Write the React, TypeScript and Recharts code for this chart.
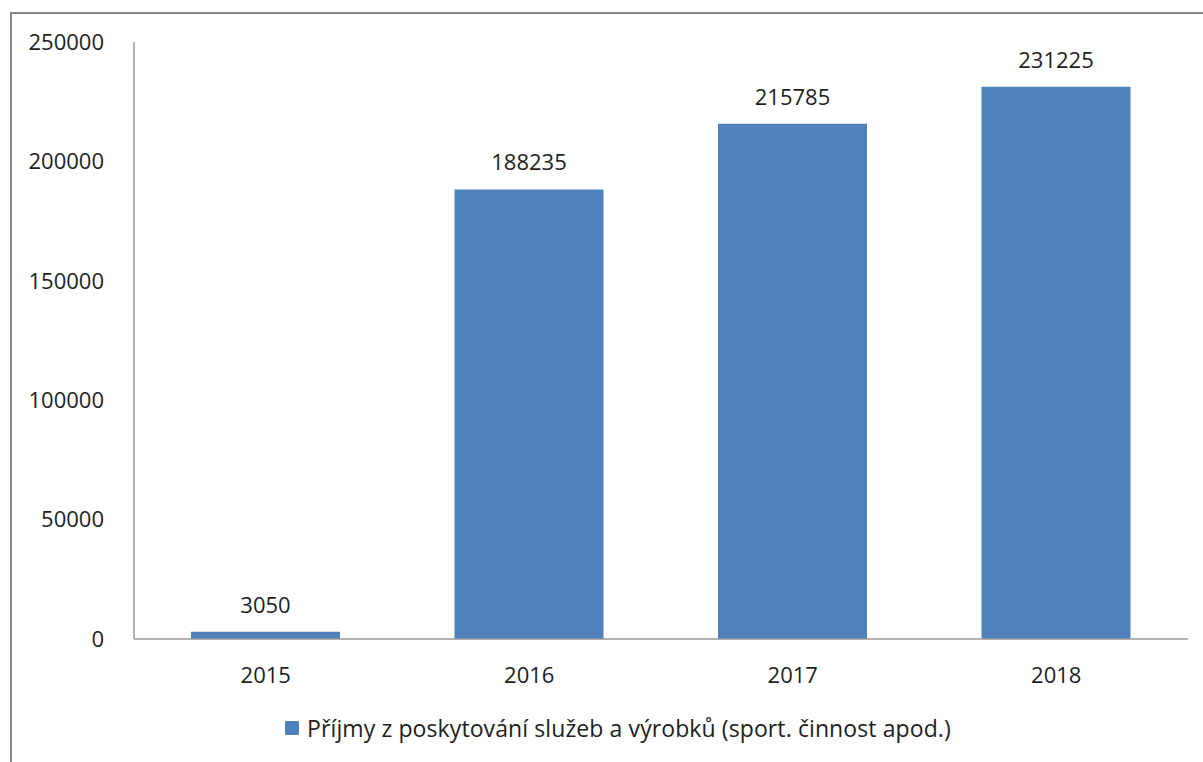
import React from "react";
import { BarChart, Bar, XAxis, YAxis, Legend, LabelList } from "recharts";

const years = ["2015", "2016", "2017", "2018"];
const income = [3050, 188235, 215785, 231225];
const yTicks = [0, 50000, 100000, 150000, 200000, 250000];
const seriesName = "Příjmy z poskytování služeb a výrobků (sport. činnost apod.)";

const data = years.map((year, i) => ({ year, value: income[i] }));

const font = "'Open Sans', 'Noto Sans', sans-serif";
const textColor = "#1e1e1e";

const LegendBox = () => (
  <div
    style={{
      display: "flex",
      justifyContent: "center",
      alignItems: "center",
      marginTop: 13,
      marginLeft: 34,
      fontFamily: font,
      fontSize: 23,
      letterSpacing: 0.1,
      color: textColor,
    }}
  >
    <span style={{ display: "inline-block", width: 14, height: 14, background: "#4F81BD", marginRight: 8 }} />
    <span>{seriesName}</span>
  </div>
);

const App: React.FC = () => (
  <div style={{ position: "absolute", left: 0, top: 0, width: 1203, height: 762, background: "#fff", overflow: "hidden" }}>
    <div
      style={{
        position: "absolute",
        left: 10,
        top: 12,
        width: 1300,
        height: 900,
        borderLeft: "2px solid #8a8a8a",
        borderTop: "2px solid #8a8a8a",
      }}
    />
    <BarChart
      width={1203}
      height={762}
      data={data}
      margin={{ top: 42, right: 15, left: 14, bottom: 10 }}
      style={{ position: "absolute", left: 0, top: 0 }}
    >
      <XAxis
        dataKey="year"
        axisLine={{ stroke: "#999", strokeWidth: 1.5 }}
        tickLine={false}
        height={60}
        tick={{ fill: textColor, fontSize: 22, fontFamily: font }}
        tickMargin={22}
      />
      <YAxis
        width={120}
        domain={[0, 250000]}
        ticks={yTicks}
        axisLine={{ stroke: "#999", strokeWidth: 1.5 }}
        tickLine={false}
        tick={{ fill: textColor, fontSize: 22, fontFamily: font }}
        tickMargin={24}
      />
      <Legend verticalAlign="bottom" height={53} content={() => <LegendBox />} />
      <Bar dataKey="value" name={seriesName} fill="#4F81BD" barSize={149} isAnimationActive={false}>
        <LabelList dataKey="value" position="top" offset={19} fill={textColor} fontSize={22} fontFamily={font} />
      </Bar>
    </BarChart>
  </div>
);

export default App;
